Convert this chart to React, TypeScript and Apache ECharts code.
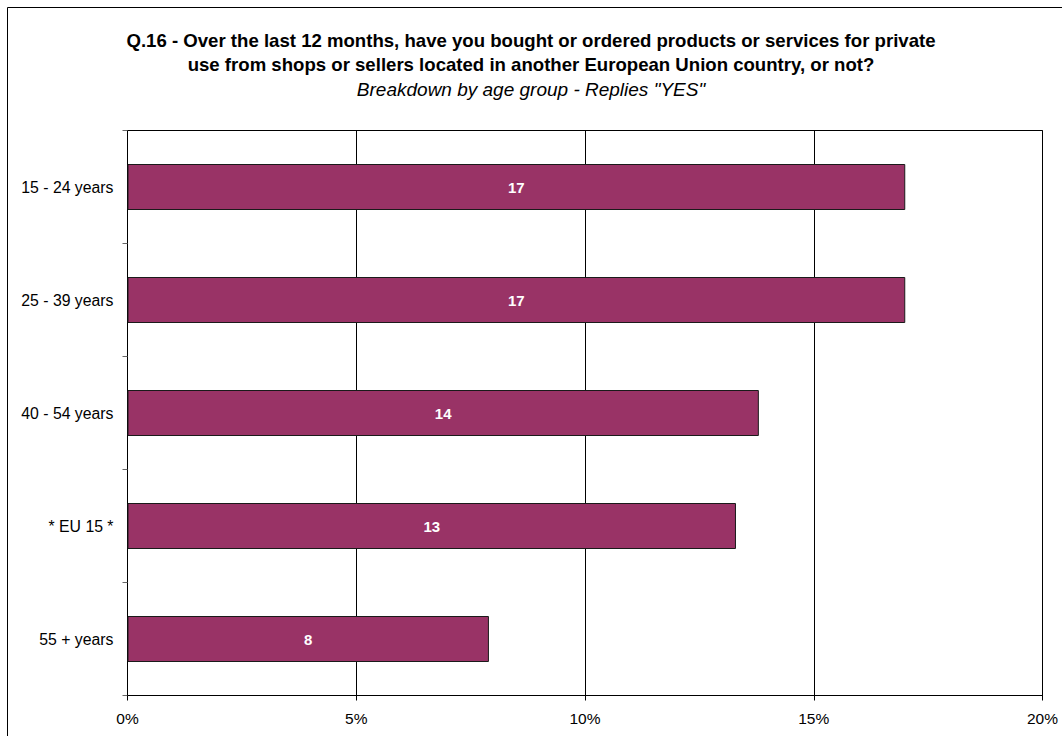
import React, { useEffect, useRef } from "react";
import * as echarts from "echarts";

const categories = ["15 - 24 years", "25 - 39 years", "40 - 54 years", "* EU 15 *", "55 + years"];
const values = [17.0, 17.0, 13.8, 13.3, 7.9];
const titleLines = [
  "Q.16 - Over the last 12 months, have you bought or ordered products or services for private",
  "use from shops or sellers located in another European Union country, or not?",
];
const subtitle = 'Breakdown by age group - Replies "YES"';

const FONT = "Arial, 'Liberation Sans', sans-serif";

export default function App() {
  const ref = useRef<HTMLDivElement>(null);
  useEffect(() => {
    const chart = echarts.init(ref.current!, undefined, { renderer: "svg" });
    chart.setOption({
      animation: false,
      backgroundColor: "#ffffff",
      textStyle: { fontFamily: FONT },
      graphic: [
        {
          type: "rect",
          shape: { x: 7.5, y: 7.5, width: 1200, height: 900 },
          style: { fill: "none", stroke: "#000", lineWidth: 1 },
          silent: true,
        },
        {
          type: "text",
          x: 531,
          y: 40,
          style: { text: titleLines[0], font: `bold 18.6px ${FONT}`, fill: "#000", textAlign: "center", textVerticalAlign: "middle" },
        },
        {
          type: "text",
          x: 531,
          y: 64,
          style: { text: titleLines[1], font: `bold 18.6px ${FONT}`, fill: "#000", textAlign: "center", textVerticalAlign: "middle" },
        },
        {
          type: "text",
          x: 531,
          y: 89,
          style: { text: subtitle, font: `italic 19px ${FONT}`, fill: "#000", textAlign: "center", textVerticalAlign: "middle" },
        },
      ],
      grid: {
        left: 127.5,
        top: 130.5,
        right: 19.5,
        bottom: 40.5,
        show: true,
        borderColor: "#000",
        borderWidth: 1,
        backgroundColor: "transparent",
      },
      xAxis: {
        type: "value",
        min: 0,
        max: 20,
        interval: 5,
        axisLine: { show: true, lineStyle: { color: "#000", width: 1 } },
        axisTick: { show: true, length: 5, lineStyle: { color: "#000" } },
        axisLabel: { formatter: "{value}%", fontSize: 15.5, color: "#000", margin: 15, fontFamily: FONT },
        splitLine: { show: true, lineStyle: { color: "#000", width: 1 } },
      },
      yAxis: {
        type: "category",
        data: categories,
        inverse: true,
        axisLine: { show: true, lineStyle: { color: "#000", width: 1 } },
        axisTick: { show: true, length: 5, lineStyle: { color: "#666" } },
        axisLabel: { fontSize: 15.8, color: "#000", margin: 14, fontFamily: FONT },
        splitLine: { show: false },
      },
      series: [
        {
          type: "bar",
          data: values,
          barWidth: 46,
          itemStyle: { color: "#993366", borderColor: "#1a1a1a", borderWidth: 1 },
          label: {
            show: true,
            position: "inside",
            formatter: (p: any) => String(Math.round(p.value)),
            color: "#fff",
            fontWeight: "bold",
            fontSize: 15,
            fontFamily: FONT,
          },
        },
      ],
    });
    return () => chart.dispose();
  }, []);
  return <div ref={ref} style={{ position: "fixed", left: 0, top: 0, width: 1062, height: 736 }} />;
}
